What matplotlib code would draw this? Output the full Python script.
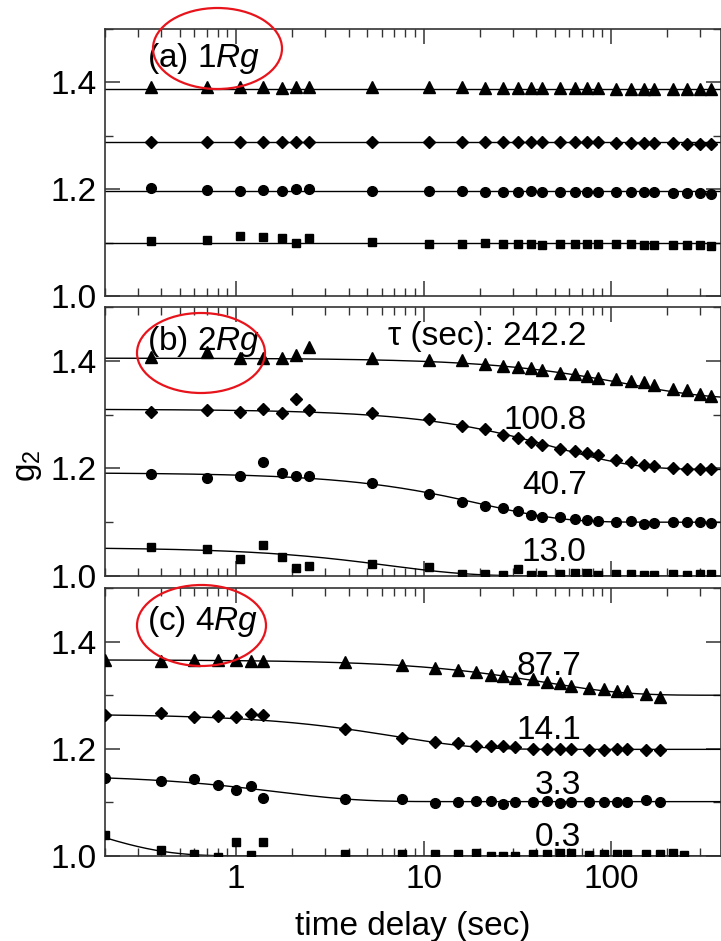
import numpy as np
import matplotlib
matplotlib.use('Agg')
import matplotlib.pyplot as plt
from matplotlib import font_manager
from matplotlib.patches import Ellipse
from matplotlib.ticker import FixedLocator, NullFormatter, MultipleLocator

# narrow Arial-like face if there is one, else plain Liberation Sans a bit smaller
try:
    font_manager.findfont('Liberation Sans Narrow', fallback_to_default=False)
    FAM, FS = 'Liberation Sans Narrow', 26
except ValueError:
    FAM, FS = 'Liberation Sans', 24

plt.rcParams['font.family'] = [FAM, 'DejaVu Sans']
plt.rcParams['mathtext.fontset'] = 'custom'
plt.rcParams['mathtext.rm'] = FAM
plt.rcParams['mathtext.it'] = FAM + ':italic'

# delay times (sec)
t_ab = [0.35, 0.70, 1.05, 1.40, 1.75, 2.10, 2.45, 5.33, 10.65, 16.0, 21.3, 26.6, 32.0,
        37.3, 42.6, 53.3, 63.9, 74.6, 85.2, 106.5, 127.8, 149.1, 170.4, 213.0, 255.6,
        298.2, 340.8]
t_c = [0.2, 0.4, 0.6, 0.8, 1.0, 1.2, 1.4, 3.82, 7.64, 11.5, 15.3, 19.1, 22.9, 26.7,
       30.6, 38.2, 45.8, 53.5, 61.1, 76.4, 91.7, 107.0, 122.0, 153.0, 183.0, 214.0, 244.0]

# (a) 1Rg
tri_a = [1.392, 1.392, 1.391, 1.392, 1.389, 1.391, 1.391, 1.391, 1.391, 1.391, 1.390,
         1.390, 1.390, 1.390, 1.390, 1.389, 1.389, 1.389, 1.389, 1.388, 1.388, 1.388,
         1.388, 1.387, 1.387, 1.387, 1.387]
dia_a = [1.288, 1.288, 1.288, 1.288, 1.288, 1.288, 1.288, 1.288, 1.288, 1.288, 1.288,
         1.288, 1.288, 1.288, 1.288, 1.288, 1.288, 1.288, 1.288, 1.287, 1.287, 1.287,
         1.287, 1.286, 1.285, 1.285, 1.284]
cir_a = [1.202, 1.198, 1.196, 1.199, 1.197, 1.200, 1.201, 1.197, 1.197, 1.196, 1.195,
         1.195, 1.195, 1.196, 1.194, 1.194, 1.194, 1.195, 1.194, 1.194, 1.194, 1.194,
         1.194, 1.193, 1.193, 1.193, 1.191]
sq_a = [1.103, 1.105, 1.113, 1.111, 1.108, 1.100, 1.109, 1.101, 1.098, 1.098, 1.100,
        1.098, 1.098, 1.098, 1.095, 1.098, 1.098, 1.098, 1.097, 1.097, 1.097, 1.095,
        1.095, 1.095, 1.095, 1.095, 1.094]
level_a = [1.388, 1.288, 1.196, 1.099]

# (b) 2Rg
tri_b = [1.408, 1.416, 1.406, 1.406, 1.406, 1.410, 1.425, 1.405, 1.402, 1.401, 1.394,
         1.391, 1.388, 1.387, 1.383, 1.378, 1.375, 1.372, 1.369, 1.367, 1.363, 1.360,
         1.355, 1.348, 1.345, 1.338, 1.334]
dia_b = [1.3045, 1.308, 1.3045, 1.311, 1.303, 1.329, 1.309, 1.303, 1.2915, 1.278, 1.273,
         1.262, 1.257, 1.249, 1.243, 1.236, 1.233, 1.228, 1.2245, 1.216, 1.211, 1.207,
         1.205, 1.200, 1.1985, 1.198, 1.1985]
cir_b = [1.190, 1.182, 1.185, 1.2115, 1.192, 1.1866, 1.185, 1.1736, 1.152, 1.138, 1.130,
         1.126, 1.1215, 1.1135, 1.110, 1.110, 1.106, 1.104, 1.103, 1.101, 1.103, 1.096,
         1.099, 1.101, 1.100, 1.100, 1.099]
sq_b = [1.054, 1.051, 1.031, 1.058, 1.035, 1.015, 1.019, 1.022, 1.016, 1.004, 1.0045,
        1.001, 1.013, 1.001, 1.002, 1.004, 1.005, 1.005, 1.002, 1.004, 1.003, 1.002,
        1.002, 1.003, 1.002, 1.004, 1.003]
tau_b = [242.2, 100.8, 40.7, 13.0]
base_b = [1.3295, 1.198, 1.100, 1.000]
amp_b = [0.0755, 0.112, 0.092, 0.053]

# (c) 4Rg
tri_c = [1.366, 1.364, 1.366, 1.366, 1.366, 1.364, 1.364, 1.3626, 1.3565, 1.3515, 1.347,
         1.344, 1.338, 1.3365, 1.332, 1.3297, 1.325, 1.322, 1.318, 1.313, 1.311, 1.308,
         1.3075, 1.302, 1.297]
dia_c = [1.264, 1.266, 1.260, 1.262, 1.260, 1.265, 1.263, 1.237, 1.221, 1.212, 1.2115,
         1.205, 1.2055, 1.205, 1.204, 1.200, 1.1995, 1.199, 1.1995, 1.1976, 1.1976,
         1.1995, 1.1995, 1.1976, 1.1976]
cir_c = [1.1447, 1.140, 1.143, 1.132, 1.123, 1.130, 1.109, 1.106, 1.1055, 1.099, 1.1016,
         1.1028, 1.103, 1.098, 1.1016, 1.1016, 1.1028, 1.099, 1.100, 1.101, 1.101,
         1.1016, 1.1016, 1.104, 1.1016]
sq_c = [1.039, 1.012, 1.003, 0.999, 1.027, 1.001, 1.026, 1.003, 1.0045, 1.003, 1.004,
        1.006, 1.000, 1.000, 1.000, 1.0045, 1.003, 1.006, 1.005, 1.001, 1.003, 1.003,
        1.003, 1.0045, 1.0045, 1.005, 1.001]
tau_c = [87.7, 14.1, 3.3, 0.3]
base_c = [1.300, 1.199, 1.1015, 1.000]
amp_c = [0.066, 0.066, 0.050, 0.13]

XMIN, XMAX = 0.2, 386

fig = plt.figure(figsize=(7.21, 9.41), dpi=100)
boxes = [(0.1456, 0.6854, 0.8544, 0.2838),
         (0.1456, 0.3879, 0.8544, 0.2858),
         (0.1456, 0.0903, 0.8544, 0.2848)]
axes = [fig.add_axes(b) for b in boxes]

markers = [('^', 8.0), ('D', 6.0), ('o', 7.0), ('s', 5.8)]
tt = np.geomspace(XMIN, XMAX, 400)


def style(ax, bottom_labels):
    ax.set_xscale('log')
    ax.set_xlim(XMIN, XMAX)
    ax.set_ylim(1.0, 1.5)
    ax.yaxis.set_major_locator(FixedLocator([1.0, 1.2, 1.4]))
    ax.yaxis.set_minor_locator(MultipleLocator(0.1))
    ax.xaxis.set_major_locator(FixedLocator([1, 10, 100]))
    ax.xaxis.set_minor_locator(FixedLocator(
        [m * d for d in (0.1, 1, 10, 100) for m in range(2, 10)]))
    ax.xaxis.set_minor_formatter(NullFormatter())
    ax.tick_params(which='both', direction='in', top=True, right=True,
                   labelsize=FS, color='#333333', pad=6)
    ax.tick_params(which='major', length=11, width=1.1)
    ax.tick_params(which='minor', length=6, width=1.0)
    ax.set_yticklabels(['1.0', '1.2', '1.4'])
    if bottom_labels:
        ax.set_xticklabels(['1', '10', '100'])
    else:
        ax.set_xticklabels([])
    for s in ax.spines.values():
        s.set_color('#333333')
        s.set_linewidth(1.2)


def points(ax, t, series):
    for (m, ms), y in zip(markers, series):
        ax.plot(t[:len(y)], y, linestyle='none', marker=m, markersize=ms,
                color='black', zorder=3)


# panel (a)
ax = axes[0]
style(ax, False)
for lv in level_a:
    ax.axhline(lv, color='black', lw=1.0, zorder=2)
points(ax, t_ab, [tri_a, dia_a, cir_a, sq_a])

# panel (b)
ax = axes[1]
style(ax, False)
for b, a, tau in zip(base_b, amp_b, tau_b):
    ax.plot(tt, b + a * np.exp(-2 * tt / tau), color='black', lw=1.0, zorder=2)
points(ax, t_ab, [tri_b, dia_b, cir_b, sq_b])
ax.text(74, 1.445, r'τ (sec): 242.2', fontsize=FS, ha='right', va='center')
for lab, y in zip(['100.8', '40.7', '13.0'], [1.290, 1.169, 1.043]):
    ax.text(74, y, lab, fontsize=FS, ha='right', va='center')

# panel (c)
ax = axes[2]
style(ax, True)
for b, a, tau in zip(base_c, amp_c, tau_c):
    ax.plot(tt, b + a * np.exp(-2 * tt / tau), color='black', lw=1.0, zorder=2)
points(ax, t_c, [tri_c, dia_c, cir_c, sq_c])
for lab, y in zip(['87.7', '14.1', '3.3', '0.3'], [1.353, 1.235, 1.132, 1.034]):
    ax.text(69.5, y, lab, fontsize=FS, ha='right', va='center')
ax.set_xlabel('time delay (sec)', fontsize=FS, labelpad=11)

# panel labels
for ax, lab, yy in zip(axes, ['(a) 1$\\it{Rg}$', '(b) 2$\\it{Rg}$', '(c) 4$\\it{Rg}$'],
                       [0.891, 0.871, 0.874]):
    ax.text(0.0677, yy, lab, transform=ax.transAxes, fontsize=FS,
            ha='left', va='center')

fig.text(0.039, 0.505, 'g$_2$', rotation=90, fontsize=FS, ha='center', va='center')

# red ellipses around the panel labels
W, H = 721.0, 941.0
for cx, cy, w, h in [(217.5, 48.5, 129, 81), (201, 353, 128, 80), (201.5, 625.5, 129, 81)]:
    e = Ellipse((cx / W, 1 - cy / H), w / W, h / H, transform=fig.transFigure,
                fill=False, edgecolor='#e8141c', lw=1.6, zorder=10)
    fig.add_artist(e)

fig.savefig('out.png', dpi=100)
